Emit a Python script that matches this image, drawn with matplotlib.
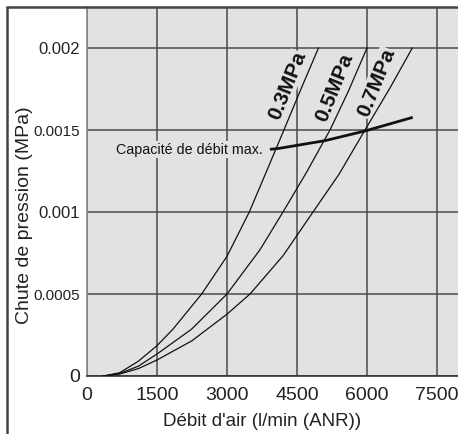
import matplotlib.pyplot as plt
from matplotlib.patches import Rectangle

# Courbes de chute de pression
x_03 = [350, 700, 1100, 1500, 1843, 2457, 3000, 3478, 3850, 4220, 4600, 4960]
y_03 = [0, 0.00002, 0.00009, 0.000185, 0.000286, 0.0005, 0.00073, 0.001, 0.00125, 0.0015, 0.00176, 0.002]
x_05 = [350, 700, 1100, 1500, 2243, 3000, 3707, 4200, 4700, 5207, 5600, 6000]
y_05 = [0, 0.000015, 0.00006, 0.000134, 0.000286, 0.0005, 0.00077, 0.001, 0.00124, 0.0015, 0.001736, 0.002]
x_07 = [350, 700, 1100, 1500, 2250, 3000, 3493, 4200, 4843, 5400, 5957, 6500, 6970]
y_07 = [0, 0.000012, 0.000045, 0.0000977, 0.000215, 0.000377, 0.0005, 0.000733, 0.001, 0.00123, 0.0015, 0.00176, 0.002]
# Capacite de debit max.
x_cap = [3920, 4114, 5100, 5957, 6980]
y_cap = [0.001382, 0.001388, 0.001435, 0.001494, 0.001577]

labels = ['0.3MPa', '0.5MPa', '0.7MPa']
label_pos = [(4286, 0.001768), (5293, 0.001756), (6193, 0.001787)]

x_ticks = [0, 1500, 3000, 4500, 6000, 7500]
y_ticks = [0, 0.0005, 0.001, 0.0015, 0.002]
y_tick_labels = ['0', '0.0005', '0.001', '0.0015', '0.002']

BG = '#e1e2e4'
GRID = '#4a4a4a'
FONT = ['Liberation Sans', 'DejaVu Sans']

plt.rcParams['font.family'] = FONT

fig = plt.figure(figsize=(4.58, 4.34), dpi=100)
ax = fig.add_axes([87 / 458, (434 - 376) / 434, (458 - 87) / 458, (376 - 7) / 434])
ax.set_facecolor(BG)

ax.set_xlim(0, 7950)
ax.set_ylim(0, 0.00225)

ax.set_xticks(x_ticks)
ax.set_yticks(y_ticks)
ax.set_xticklabels([str(t) for t in x_ticks], fontsize=14, color='#222222')
ax.set_yticklabels(y_tick_labels, color='#222222')
for lab in ax.get_yticklabels():
    txt = lab.get_text()
    if txt == '0':
        lab.set_fontsize(14)
    elif len(txt) > 5:
        lab.set_fontsize(11)
    else:
        lab.set_fontsize(12)
ax.tick_params(axis='both', length=0)
ax.tick_params(axis='x', pad=8)
ax.tick_params(axis='y', pad=5)

ax.grid(True, color=GRID, linewidth=1.1, zorder=1)
ax.set_axisbelow(True)
for s in ['top', 'right']:
    ax.spines[s].set_visible(False)
ax.spines['left'].set_color('#8a8a8a')
ax.spines['left'].set_linewidth(1.2)
ax.spines['bottom'].set_color('#333333')
ax.spines['bottom'].set_linewidth(1.2)

ax.plot(x_03, y_03, color='#111111', linewidth=0.9, zorder=4)
ax.plot(x_05, y_05, color='#111111', linewidth=0.9, zorder=4)
ax.plot(x_07, y_07, color='#111111', linewidth=0.9, zorder=4)
ax.plot(x_cap, y_cap, color='#111111', linewidth=2.0, zorder=5, solid_capstyle='butt')

for lab, (lx, ly) in zip(labels, label_pos):
    ax.text(lx, ly, lab, rotation=68, rotation_mode='anchor', ha='center', va='center',
            fontsize=15, fontweight='bold', color='#111111', zorder=3,
            bbox=dict(facecolor=BG, edgecolor='none', pad=0.5))

ax.text(3770, 0.00138, 'Capacité de débit max.', ha='right', va='center',
        fontsize=10.3, color='#111111', zorder=3,
        bbox=dict(facecolor=BG, edgecolor='none', pad=1))

fig.text(262 / 458, 1 - 422 / 434, "Débit d'air (l/min (ANR))", ha='center', va='center',
         fontsize=13.5, color='#222222')
fig.text(25 / 458, 1 - 215 / 434, 'Chute de pression (MPa)', ha='center', va='center',
         rotation=90, fontsize=14, color='#222222')

# cadre autour de la figure
fig.patches.append(Rectangle((7 / 458, -0.05), 1.1, 1 - 7 / 434 + 0.05, transform=fig.transFigure,
                             fill=False, edgecolor='#444444', linewidth=1.8))

fig.savefig('out.png', dpi=100, facecolor='white')
